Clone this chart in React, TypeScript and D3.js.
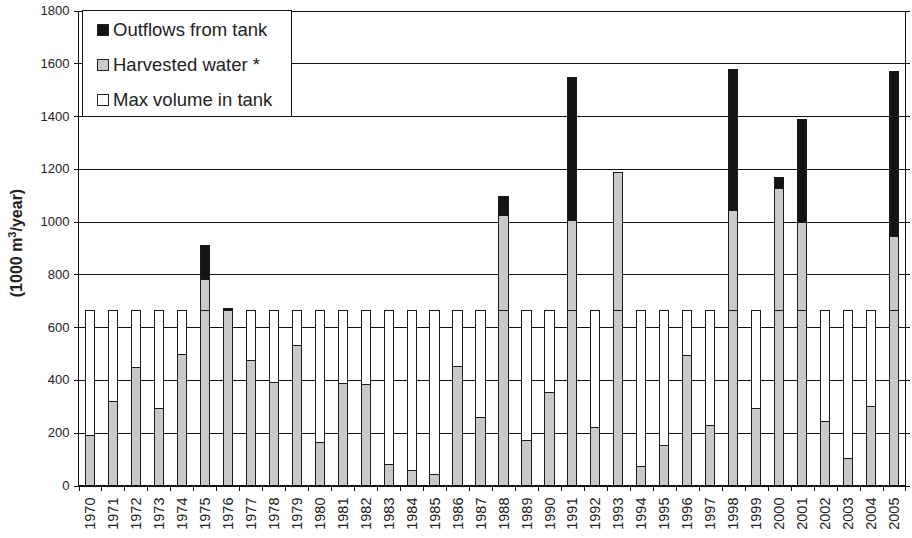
import React from "react";
import * as d3 from "d3";

const years = [
  "1970", "1971", "1972", "1973", "1974", "1975", "1976", "1977", "1978", "1979",
  "1980", "1981", "1982", "1983", "1984", "1985", "1986", "1987", "1988", "1989",
  "1990", "1991", "1992", "1993", "1994", "1995", "1996", "1997", "1998", "1999",
  "2000", "2001", "2002", "2003", "2004", "2005",
];

const harvested = [
  188, 319, 447, 291, 496, 782, 665, 473, 389, 529,
  162, 387, 383, 80, 57, 42, 452, 256, 1024, 171,
  353, 1004, 221, 1187, 72, 152, 491, 227, 1043, 290,
  1127, 995, 244, 102, 301, 942,
];

const outflows = [
  0, 0, 0, 0, 0, 127, 5, 0, 0, 0,
  0, 0, 0, 0, 0, 0, 0, 0, 73, 0,
  0, 543, 0, 0, 0, 0, 0, 0, 533, 0,
  42, 392, 0, 0, 0, 625,
];

const maxVolume = 665;

const yTicks = [0, 200, 400, 600, 800, 1000, 1200, 1400, 1600, 1800];

const legendItems = [
  { label: "Outflows from tank", fill: "#141414" },
  { label: "Harvested water *", fill: "#c9c9c9" },
  { label: "Max volume in tank", fill: "#ffffff" },
];

const W = 912;
const H = 538;
const left = 78.5;
const right = 905.5;
const top = 10.5;
const bottom = 485.5;
const font = "'Liberation Sans', Arial, sans-serif";

export default function App() {
  const x = d3.scaleBand<string>().domain(years).range([left, right]).padding(0);
  const y = d3.scaleLinear().domain([0, 1800]).range([bottom, top]);
  const bw = x.bandwidth() * 0.4;
  const stroke = "#1a1a1a";

  return (
    <div style={{ position: "absolute", left: 0, top: 0 }}>
      <svg width={W} height={H} style={{ display: "block", background: "#fff" }}>
        {/* gridlines */}
        {yTicks.map((t) => (
          <line key={"g" + t} x1={left} x2={right + 4} y1={Math.round(y(t)) + 0.5} y2={Math.round(y(t)) + 0.5} stroke="#111" strokeWidth={1} shapeRendering="crispEdges" />
        ))}
        {/* right frame */}
        <line x1={right} x2={right} y1={top} y2={bottom} stroke="#111" shapeRendering="crispEdges" />
        {/* bars */}
        {years.map((yr, i) => {
          const cx = (x(yr) as number) + x.bandwidth() / 2;
          const bx = cx - bw / 2;
          const h = harvested[i];
          const o = outflows[i];
          return (
            <g key={yr} shapeRendering="crispEdges">
              <rect x={bx} y={y(maxVolume)} width={bw} height={y(0) - y(maxVolume)} fill="#fff" stroke={stroke} />
              <rect x={bx} y={y(h)} width={bw} height={y(0) - y(h)} fill="#c9c9c9" stroke={stroke} />
              {h > maxVolume && (
                <rect x={bx} y={y(maxVolume)} width={bw} height={y(0) - y(maxVolume)} fill="none" stroke={stroke} />
              )}
              {o > 0 && (
                <rect x={bx} y={y(h + o)} width={bw} height={y(h) - y(h + o)} fill="#141414" stroke={stroke} />
              )}
            </g>
          );
        })}
        {/* y axis */}
        <line x1={left} x2={left} y1={top} y2={bottom} stroke="#111" shapeRendering="crispEdges" />
        {yTicks.map((t) => (
          <g key={"yt" + t}>
            <line x1={left - 5} x2={left} y1={Math.round(y(t)) + 0.5} y2={Math.round(y(t)) + 0.5} stroke="#111" shapeRendering="crispEdges" />
            <text x={left - 9} y={y(t)} dy="0.35em" textAnchor="end" fontFamily={font} fontSize={13} fill="#222">
              {t}
            </text>
          </g>
        ))}
        {/* x axis */}
        <line x1={left} x2={right} y1={bottom} y2={bottom} stroke="#111" shapeRendering="crispEdges" />
        {years.map((yr) => (
          <line key={"xt" + yr} x1={Math.round(x(yr) as number) + 0.5} x2={Math.round(x(yr) as number) + 0.5} y1={bottom} y2={bottom + 5} stroke="#111" shapeRendering="crispEdges" />
        ))}
        <line x1={right} x2={right} y1={bottom} y2={bottom + 5} stroke="#111" shapeRendering="crispEdges" />
        {years.map((yr) => {
          const cx = (x(yr) as number) + x.bandwidth() / 2;
          return (
            <text key={"xl" + yr} transform={`translate(${cx},${bottom + 12}) rotate(-90)`} dy="0.35em" textAnchor="end" fontFamily={font} fontSize={14.5} fill="#222">
              {yr}
            </text>
          );
        })}
        {/* y axis title */}
        <text transform={`translate(16,243) rotate(-90)`} textAnchor="middle" dy="0.35em" fontFamily={font} fontSize={16} fontWeight="bold" fill="#222">
          (1000 m<tspan dy="-6" fontSize={11}>3</tspan><tspan dy="6">/year)</tspan>
        </text>
        {/* legend */}
        <rect x={82.5} y={top} width={209} height={106} fill="#fff" stroke="#111" shapeRendering="crispEdges" />
        {legendItems.map((it, i) => {
          const cy = 30 + i * 35;
          return (
            <g key={it.label}>
              <rect x={97.5} y={cy - 5.5} width={11} height={11} fill={it.fill} stroke="#222" shapeRendering="crispEdges" />
              <text x={113} y={cy} dy="0.35em" fontFamily={font} fontSize={18.5} fill="#222">
                {it.label}
              </text>
            </g>
          );
        })}
      </svg>
    </div>
  );
}
